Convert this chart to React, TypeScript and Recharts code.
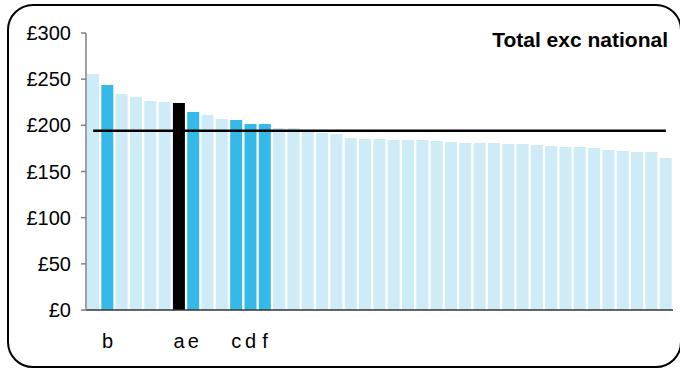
import React from "react";
import { Bar, Cell, ComposedChart, Line, XAxis, YAxis } from "recharts";

const CODES = ["", "b", "", "", "", "", "a", "e", "", "", "c", "d", "f", "", "", "", "", "", "", "", "", "", "", "", "", "", "", "", "", "", "", "", "", "", "", "", "", "", "", "", ""];

const VALUES = [
  255.6, 243.7, 234, 230.7, 226.4, 225.3, 224.2, 214.5, 211.2, 206.9, 205.8, 201.5, 201.5, 197.1,
  197.1, 193.9, 191.7, 190.6, 186.3, 185.2, 185.2, 184.1, 184.1, 184.1, 183, 182, 180.9, 180.9,
  180.9, 179.8, 179.8, 178.7, 177.6, 176.5, 176.5, 175.5, 173.3, 172.2, 171.1, 171.1, 164.6,
];

// national average line
const NATIONAL = 194;

const Y_TICKS = [0, 50, 100, 150, 200, 250, 300];

const LIGHT = "#cdecf8";
const BLUE = "#35b9e8";
const BLACK = "#000000";

function barColor(code: string) {
  if (code === "a") return BLACK;
  if (code === "") return LIGHT;
  return BLUE;
}

const data = VALUES.map((value, i) => ({
  code: CODES[i],
  value,
  national: NATIONAL,
}));

const FONT = '"Liberation Sans", Arial, sans-serif';

export default function App() {
  return (
    <div style={{ position: "absolute", left: 0, top: 0, width: 680, height: 369, overflow: "hidden", fontFamily: FONT }}>

      <div
        style={{
          position: "absolute",
          left: 7,
          top: 4,
          width: 671,
          height: 360,
          border: "2px solid #000",
          borderRadius: 26,
        }}
      />

      <div
        style={{
          position: "absolute",
          right: 12,
          top: 28,
          fontSize: 21,
          fontWeight: "bold",
          color: "#000",
          whiteSpace: "nowrap",
        }}
      >
        Total exc national
      </div>

      <ComposedChart
        width={680}
        height={369}
        data={data}
        margin={{ top: 33, right: 7, bottom: 19, left: 6 }}
        barCategoryGap={1}
        style={{ position: "absolute", left: 0, top: 0 }}
      >

        <XAxis
          dataKey="code"
          interval={0}
          tickLine={false}
          tickSize={0}
          tickMargin={24}
          height={40}
          axisLine={{ stroke: "#333", strokeWidth: 1.5 }}
          tick={{ fill: "#000", fontSize: 20, fontFamily: FONT }}
        />

        <YAxis
          domain={[0, 300]}
          ticks={Y_TICKS}
          interval={0}
          width={80}
          tickSize={5}
          tickMargin={10}
          tickFormatter={(v: number) => `£${v}`}
          axisLine={{ stroke: "#808080", strokeWidth: 1.5 }}
          tickLine={{ stroke: "#808080", strokeWidth: 1.5 }}
          tick={{ fill: "#000", fontSize: 20, fontFamily: FONT }}
        />

        <Bar dataKey="value" isAnimationActive={false}>

          {data.map((d, i) => (
            <Cell key={i} fill={barColor(d.code)} />
          ))}

        </Bar>

        <Line
          dataKey="national"
          stroke="#000"
          strokeWidth={2.5}
          dot={false}
          activeDot={false}
          isAnimationActive={false}
        />

      </ComposedChart>

    </div>
  );
}
